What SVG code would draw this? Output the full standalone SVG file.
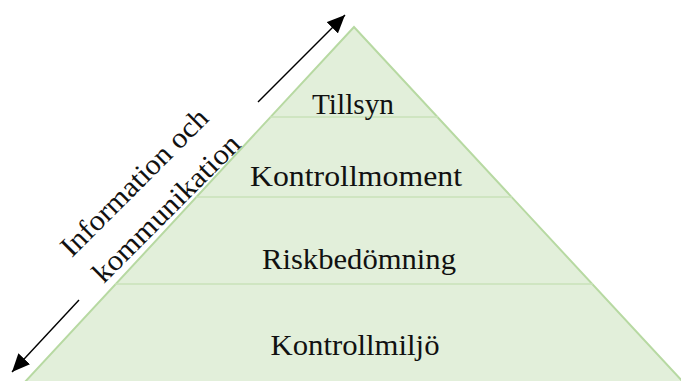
<svg xmlns="http://www.w3.org/2000/svg" width="681" height="381" viewBox="0 0 681 381">
<style>
.lbl{font-family:'Liberation Serif','DejaVu Serif',serif;font-size:29px;fill:#111;text-anchor:middle}
.div{stroke:#C9E2B8;stroke-width:1.5;fill:none}
.arr{stroke:#000;stroke-width:1.4;fill:none;marker-end:url(#ah)}
</style>
<defs>
<marker id="ah" markerUnits="userSpaceOnUse" markerWidth="20" markerHeight="16" refX="18" refY="8" orient="auto">
<path d="M0,0 L18,8 L0,16 z" fill="#000"/>
</marker>
</defs>
<rect width="681" height="381" fill="#fff"/>
<g id="pyramid">
<polygon points="354,27 24,383 684,383" fill="#E2EFDA" stroke="#B7D9A2" stroke-width="2"/>
<line class="div" x1="270" y1="117" x2="438" y2="117"/>
<line class="div" x1="196" y1="197" x2="512" y2="197"/>
<line class="div" x1="115" y1="284" x2="593" y2="284"/>
</g>
<g id="tillsyn"><text class="lbl" x="353" y="114" textLength="82" lengthAdjust="spacingAndGlyphs">Tillsyn</text></g>
<g id="kontrollmoment"><text class="lbl" x="356" y="186" textLength="212" lengthAdjust="spacingAndGlyphs">Kontrollmoment</text></g>
<g id="riskbedomning"><text class="lbl" x="359" y="269" textLength="194" lengthAdjust="spacingAndGlyphs">Riskbedömning</text></g>
<g id="kontrollmiljo"><text class="lbl" x="355" y="355" textLength="169" lengthAdjust="spacingAndGlyphs">Kontrollmiljö</text></g>
<g id="info">
<text class="lbl" transform="translate(141,189) rotate(-45)" textLength="196" lengthAdjust="spacingAndGlyphs">Information och</text>
<text class="lbl" transform="translate(173,215) rotate(-45)" textLength="196" lengthAdjust="spacingAndGlyphs">kommunikation</text>
</g>
<g id="connectors">
<line class="arr" x1="258" y1="102" x2="345" y2="15"/>
<line class="arr" x1="79" y1="300" x2="12" y2="372"/>
</g>
</svg>
